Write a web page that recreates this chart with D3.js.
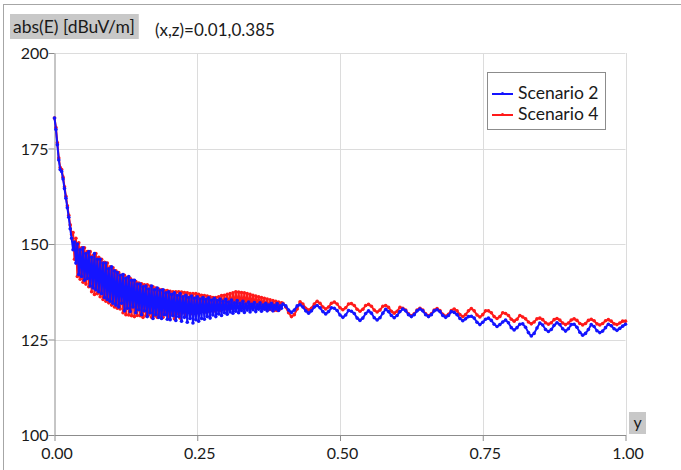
<!DOCTYPE html>
<html>
<head>
<meta charset="utf-8">
<script src="https://cdn.jsdelivr.net/npm/d3@7"></script>
<style>
  html, body { margin: 0; padding: 0; background: #fff; }
  svg { display: block; font-family: Lato, "Open Sans", sans-serif; }
</style>
</head>
<body>
<svg id="chart" width="681" height="470"></svg>
<script>
// Field strength along y at (x,z)=0.01,0.385.
// Near-field part (y < 0.40) sampled every 0.0025, the rest every 0.005.
const nearStep = 0.0025;
const farStart = 0.40;
const farStep = 0.005;

const scenario2Near = [
  183, 180, 176, 172, 169.5, 169, 167, 164.5, 162, 159.5, 157, 154, 151.5,
  148.5, 150.5, 145,
  150, 142, 148.5, 141.5,
  149, 140.5, 147.5, 141,
  148, 139, 146.5, 138.5,
  147.5, 138, 146, 137.5,
  146, 137, 145, 136,
  145, 135.5, 143.5, 135,
  144, 134.5, 143, 134,
  142.5, 133.5, 141.8, 134.5,
  142, 132.5, 141, 133.2,
  141.5, 132.3, 140.5, 133.5,
  140.5, 132, 139.5, 132.8,
  139.5, 131.5, 138.8, 132.5,
  139, 131, 138.2, 132,
  139, 130.5, 138, 131.5,
  138.5, 130.8, 137.8, 130.5,
  138, 131.5, 137.2, 130.3,
  137.5, 130.2, 136.8, 131.2,
  137.2, 130, 136.5, 131,
  137, 129.8, 136.2, 130.8,
  136.6, 129.5, 136, 130.5,
  136.4, 129.3, 135.8, 130.2,
  136.2, 129.8, 135.6, 130.5,
  136, 130.3, 135.5, 131,
  135.9, 130.6, 135.3, 131.4,
  135.8, 131, 135.2, 131.7,
  135.6, 131.3, 135, 132,
  135.5, 131.6, 134.8, 132.2,
  135.3, 131.9, 134.6, 132.4,
  135.2, 132, 134.5, 132.6,
  135, 132.1, 134.3, 132.7,
  134.8, 132.2, 134.2, 132.8,
  134.7, 132.3, 134.1, 132.9,
  134.6, 132.4, 134, 132.9,
  134.5, 132.5, 134, 133,
  134.5, 132.5, 133.9, 133,
  134.4, 132.6, 133.8, 133.2
];

const scenario2Far = [
  134.3, 133.8, 132.7, 132.1, 132.7, 133.8,
  134.1, 133.5, 132.5, 131.9, 132.5, 133.5,
  133.9, 133.3, 132.3, 131.7, 132.3, 133.3,
  133.2, 132.6, 131.4, 130.8, 131.4, 132.6,
  132.4, 131.8, 130.6, 130.0, 130.6, 131.8,
  132.5, 131.9, 130.7, 130.1, 130.7, 131.9,
  132.9, 132.3, 131.3, 130.7, 131.3, 132.3,
  133.0, 132.5, 131.5, 131.0, 131.5, 132.5,
  133.0, 132.5, 131.5, 131.0, 131.5, 132.5,
  132.8, 132.3, 131.3, 130.8, 131.3, 132.3,
  132.1, 131.5, 130.5, 129.9, 130.4, 131.0,
  131.1, 130.6, 129.5, 128.9, 129.5, 130.3,
  130.6, 130.0, 129.0, 128.4, 128.9, 129.6,
  130.1, 129.4, 128.1, 127.5, 128.1, 129.0,
  129.1, 128.2, 126.8, 125.9, 126.6, 128.0,
  129.3, 128.8, 127.6, 127.1, 127.6, 128.7,
  129.4, 128.9, 127.8, 127.2, 127.8, 128.9,
  129.0, 128.2, 126.9, 126.1, 126.6, 127.6,
  128.9, 128.4, 127.3, 126.8, 127.2, 128.1,
  129.0, 128.6, 127.8, 127.4, 127.9, 128.5,
  129.0
];

const scenario4Near = [
  183, 180.5, 176.5, 172.5, 170, 169.5, 167.5, 165, 162.5, 160, 157.5, 155, 152.5,
  153, 146, 151.5,
  141.5, 150.3, 140.8, 149,
  140, 149, 139.5, 148,
  138.8, 148, 137.5, 147,
  136.8, 147.5, 137, 146.5,
  136.2, 146, 135.5, 145.2,
  135, 145, 134.6, 144,
  134, 143.8, 133.5, 143,
  133.2, 142.5, 133, 141.8,
  132, 141.8, 131.5, 141.2,
  131.4, 141, 131.2, 140.5,
  131, 140.2, 131.3, 139.8,
  131.2, 139.6, 130.8, 139.3,
  131.2, 139.3, 131.4, 139,
  130.8, 138.8, 131.2, 138.5,
  130.8, 138.2, 131.2, 138,
  130.8, 137.8, 131.5, 137.8,
  130.5, 137.6, 131.5, 137.5,
  130.4, 137.5, 131.8, 137.5,
  130.6, 137.4, 132, 137.3,
  131.5, 137.2, 132.2, 137,
  131.8, 137, 132.5, 137,
  132, 136.8, 132.3, 136.6,
  132.5, 136.5, 132.2, 136.4,
  132.4, 136.2, 132.6, 136,
  132.5, 136, 132.8, 136.2,
  132.6, 136.5, 133, 136.6,
  133, 136.8, 133, 137,
  133.2, 137.2, 133.4, 137.5,
  133.4, 137.4, 133.2, 137.3,
  133.3, 137.2, 133.5, 137,
  133.4, 136.8, 133.5, 136.6,
  133.5, 136.4, 133.4, 136.2,
  133.3, 136, 133.2, 135.8,
  133, 135.6, 132.8, 135.4,
  132.8, 135.2, 132.6, 135,
  132.6, 134.8, 133, 134.6
];

const scenario4Far = [
  134.5, 133.5, 132.0, 131.0, 131.5, 133.0,
  134.9, 134.3, 133.2, 132.7, 133.2, 134.3,
  135.0, 134.5, 133.5, 133.0, 133.5, 134.5,
  134.8, 134.3, 133.3, 132.8, 133.3, 134.3,
  134.4, 133.9, 132.9, 132.4, 132.9, 133.9,
  134.2, 133.7, 132.7, 132.2, 132.7, 133.7,
  133.9, 133.4, 132.4, 131.9, 132.4, 133.4,
  133.2, 132.7, 131.7, 131.2, 131.7, 132.7,
  133.2, 132.7, 131.7, 131.2, 131.7, 132.7,
  133.1, 132.6, 131.6, 131.1, 131.6, 132.6,
  133.0, 132.5, 131.5, 131.0, 131.5, 132.5,
  133.1, 132.5, 131.4, 130.9, 131.5, 132.5,
  132.5, 132.0, 131.0, 130.5, 131.0, 132.0,
  131.8, 131.3, 130.3, 129.8, 130.3, 131.3,
  130.9, 130.4, 129.6, 129.1, 129.6, 130.4,
  130.6, 130.2, 129.4, 129.0, 129.4, 130.2,
  130.5, 130.1, 129.3, 128.9, 129.3, 130.1,
  130.4, 130.0, 129.2, 128.8, 129.2, 130.0,
  130.3, 129.9, 129.1, 128.8, 129.2, 129.9,
  130.2, 129.8, 129.1, 128.9, 129.3, 129.8,
  129.8
];

const seriesNames = ["Scenario 2", "Scenario 4"];
const seriesColors = ["#1414ff", "#ff1a1a"];
const xTicks = [0, 0.25, 0.5, 0.75, 1.0];
const yTicks = [100, 125, 150, 175, 200];
const quantityLabel = "abs(E) [dBuV/m]";
const probeLabel = "(x,z)=0.01,0.385";
const axisName = "y";

const svg = d3.select("#chart");
const W = 681, H = 470;
const plot = { left: 54.5, right: 625.5, top: 53, bottom: 435 };

// outer frame
svg.append("rect")
  .attr("x", 3.5).attr("y", 4.5)
  .attr("width", W + 10).attr("height", H + 10)
  .attr("fill", "#fff").attr("stroke", "#a6a6a6").attr("stroke-width", 1);

const x = d3.scaleLinear().domain([0, 1]).range([plot.left, plot.right]);
const y = d3.scaleLinear().domain([100, 200]).range([plot.bottom, plot.top]);

// grid
const grid = svg.append("g").attr("stroke", "#dcdcdc").attr("stroke-width", 1);
grid.selectAll("line.v").data(xTicks.slice(1)).join("line")
  .attr("x1", d => Math.round(x(d)) + 0.5).attr("x2", d => Math.round(x(d)) + 0.5)
  .attr("y1", plot.top).attr("y2", plot.bottom);
grid.selectAll("line.h").data(yTicks.slice(1)).join("line")
  .attr("x1", plot.left).attr("x2", plot.right)
  .attr("y1", d => Math.round(y(d)) + 0.5).attr("y2", d => Math.round(y(d)) + 0.5);

// axes
const xAxis = d3.axisBottom(x).tickValues(xTicks).tickFormat(d3.format(".2f")).tickSize(6).tickSizeOuter(0);
const yAxis = d3.axisLeft(y).tickValues(yTicks).tickFormat(d3.format("d")).tickSize(6).tickSizeOuter(0);

const gx = svg.append("g").attr("transform", `translate(0,${plot.bottom})`).call(xAxis);
const gy = svg.append("g").attr("transform", `translate(${plot.left},0)`).call(yAxis);
[gx, gy].forEach(g => {
  g.select(".domain").attr("stroke", "#8c8c8c");
  g.selectAll(".tick line").attr("stroke", "#8c8c8c");
  g.selectAll(".tick text").attr("fill", "#1a1a1a")
    .style("font-family", "Lato, sans-serif").style("font-size", "16px");
});
gx.selectAll(".tick text").attr("dy", "0.95em").attr("dx", "2");
gy.selectAll(".tick text").attr("dy", "0.35em").attr("x", -6);

// series: near part and far part joined into one point list
function toPoints(near, far) {
  return near.map((v, i) => [i * nearStep, v])
    .concat(far.map((v, i) => [farStart + i * farStep, v]));
}
const sets = [
  { name: seriesNames[0], color: seriesColors[0], points: toPoints(scenario2Near, scenario2Far) },
  { name: seriesNames[1], color: seriesColors[1], points: toPoints(scenario4Near, scenario4Far) }
];

const line = d3.line().x(d => x(d[0])).y(d => y(d[1]));
const drawOrder = [sets[1], sets[0]];
const gs = svg.append("g").selectAll("g").data(drawOrder).join("g");
gs.append("path")
  .attr("d", d => line(d.points))
  .attr("fill", "none")
  .attr("stroke", d => d.color)
  .attr("stroke-width", 2)
  .attr("stroke-linejoin", "round");
gs.each(function(d) {
  d3.select(this).selectAll("circle").data(d.points).join("circle")
    .attr("cx", p => x(p[0])).attr("cy", p => y(p[1]))
    .attr("r", 1.8).attr("fill", d.color);
});

// quantity label with grey box
const qg = svg.append("g");
const qt = qg.append("text").attr("x", 13).attr("y", 33)
  .style("font-size", "17.5px").attr("fill", "#1a1a1a").text(quantityLabel);
const qb = qt.node().getBBox();
qg.insert("rect", "text")
  .attr("x", 10).attr("y", 14).attr("width", qb.width + 7).attr("height", 25)
  .attr("fill", "#c8c8c8");
svg.append("text").attr("x", 155).attr("y", 36)
  .style("font-size", "17px").attr("fill", "#1a1a1a").text(probeLabel);

// axis name box
const ag = svg.append("g");
ag.append("rect").attr("x", 629).attr("y", 412).attr("width", 17).attr("height", 22).attr("fill", "#c8c8c8");
ag.append("text").attr("x", 637.5).attr("y", 428).attr("text-anchor", "middle")
  .style("font-size", "16px").attr("fill", "#1a1a1a").text(axisName);

// legend
const lg = svg.append("g").attr("transform", "translate(487,72)");
lg.append("rect").attr("x", 0.5).attr("y", 0.5).attr("width", 118).attr("height", 57)
  .attr("fill", "#fff").attr("stroke", "#8c8c8c");
sets.forEach((s, k) => {
  const yy = 22 + k * 21;
  lg.append("line").attr("x1", 5).attr("x2", 26).attr("y1", yy).attr("y2", yy)
    .attr("stroke", s.color).attr("stroke-width", 2);
  lg.append("circle").attr("cx", 15.5).attr("cy", yy - 0.5).attr("r", 1.6).attr("fill", s.color);
  lg.append("text").attr("x", 31).attr("y", yy + 5)
    .style("font-size", "17.5px").attr("fill", "#1a1a1a").text(s.name);
});
</script>
</body>
</html>
